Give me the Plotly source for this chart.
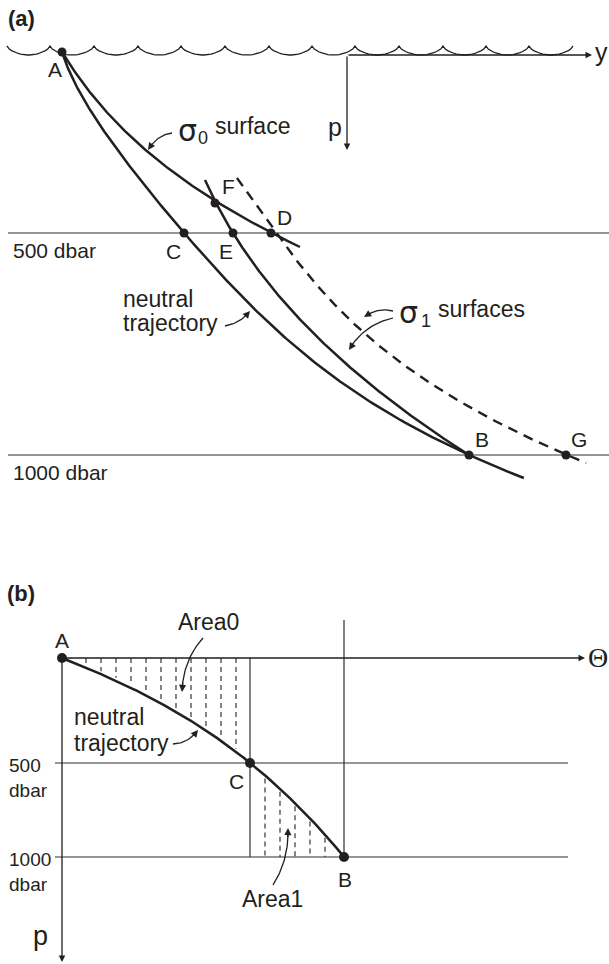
import numpy as np
import plotly.graph_objects as go

W, H = 609, 964
INK = "#231f20"
GREY = "#2e2e2e"
SANS = "Liberation Sans"
SERIF = "Liberation Serif"

# ---------------- panel (a): page-pixel positions (x right, y down) -------------
wave_cusps_x = [7, 50, 94, 138, 181, 225, 269, 312, 355, 399, 443, 486, 529, 573]
wave_cusp_y = 46
wave_trough_y = 55

# curves are read as (y, x) pairs; marked points and end points get a heavy weight
neutral_a_y = [52, 100, 130, 148, 200, 233, 260, 363, 383, 455, 478]
neutral_a_x = [62, 82, 106, 119, 158, 184, 207, 320, 348, 469, 524]
sigma0_y = [52, 100, 130, 150, 202, 233, 247]
sigma0_x = [62, 94, 122, 151, 215, 270, 300]
sigma1_solid_y = [180, 202, 233, 260, 340, 367, 455]
sigma1_solid_x = [205, 215, 233, 250, 320, 350, 469]
sigma1_dash_y = [178, 233, 260, 323, 390, 455, 463]
sigma1_dash_x = [237, 270, 293, 360, 450, 566, 587]

pts_a_name = ["A", "C", "E", "D", "F", "B", "G"]
pts_a_x = [62, 184, 233, 271, 215, 469, 566]
pts_a_y = [52, 233, 233, 233, 203, 455, 455]
lbl_a_x = [55, 173, 226, 284, 228, 482, 579]
lbl_a_y = [69, 251, 251, 217, 186, 439, 439]

levels_a_y = [233, 455]
levels_a_text = ["500 dbar", "1000 dbar"]
levels_a_text_y = [250, 472]

# ---------------- panel (b) -----------------------------------------------------
theta_axis_y = 658
p_axis_x = 62
neutral_b_x = [62, 100, 150, 200, 250, 285, 315, 344]
neutral_b_y = [658, 672, 695, 727, 763, 789, 815, 857]
pts_b_name = ["A", "C", "B"]
pts_b_x = [62, 250, 344]
pts_b_y = [658, 763, 857]
lbl_b_x = [62, 236, 345]
lbl_b_y = [640, 781, 879]
levels_b_y = [763, 857]
levels_b_num = ["500", "1000"]
area0_x = [71, 86, 101, 116, 131, 146, 161, 176, 191, 206, 221, 236]
area1_x = [265, 280, 295, 310, 325]


def fit(indep, dep, anchors, deg=3):
    n = len(indep)
    w = np.array([8.0 if ((i, d) in anchors or k in (0, n - 1)) else 1.0
                  for k, (i, d) in enumerate(zip(indep, dep))])
    return np.polyfit(indep, dep, deg, w=w)


def bezier(p0, c, p1, n=30):
    t = np.linspace(0, 1, n)[:, None]
    P = (1 - t) ** 2 * np.array(p0) + 2 * (1 - t) * t * np.array(c) + t ** 2 * np.array(p1)
    return P[:, 0], P[:, 1]


fig = go.Figure()
ann = []


def line(x, y, width=2.5, color=INK, dash=None):
    fig.add_trace(go.Scatter(x=list(x), y=list(y), mode="lines", hoverinfo="skip",
                             line=dict(color=color, width=width, dash=dash)))


def text(x, y, s, size=21, xanchor="center", family=SANS, color=INK):
    ann.append(dict(x=x, y=y, text=s, showarrow=False, xanchor=xanchor, yanchor="middle",
                    font=dict(family=family, size=size, color=color)))


def arrow(x0, y0, x1, y1, width=1.5, head=2, size=1.0):
    ann.append(dict(x=x1, y=y1, ax=x0, ay=y0, axref="x", ayref="y", xref="x", yref="y",
                    text="", showarrow=True, arrowhead=head, arrowsize=size,
                    arrowwidth=width, arrowcolor=INK, standoff=0, startstandoff=0))


def curved_arrow(p0, c, p1):
    bx, by = bezier(p0, c, p1)
    line(bx[:-3], by[:-3], width=1.3)
    arrow(bx[-6], by[-6], bx[-1], by[-1], width=1.3, head=2, size=1.1)


def curve_x_of_y(ys, xs, marks, deg=3, **kw):
    anchors = {(my, mx) for mx, my in marks}
    c = fit(ys, xs, anchors, deg)
    yy = np.linspace(ys[0], ys[-1], 200)
    line(np.polyval(c, yy), yy, **kw)


# sea surface: scallops between cusps
wx, wy = [], []
for a, b in zip(wave_cusps_x[:-1], wave_cusps_x[1:]):
    s = np.linspace(0, 1, 20)
    wx += list(a + (b - a) * s)
    wy += list(wave_cusp_y + (wave_trough_y - wave_cusp_y) * np.sin(np.pi * s) ** 0.6)
line(wx, wy, width=1.3)

# y / p axes of panel (a)
arrow(347, 55, 592, 55, width=1.3)
arrow(347, 55, 347, 150, width=1.3)
text(601, 52, "y", size=25)
text(335, 127, "p", size=25)

# pressure levels of panel (a)
for ly, lt, ty in zip(levels_a_y, levels_a_text, levels_a_text_y):
    line([8, W], [ly, ly], width=1.2, color=GREY)
    text(11, ty, lt, xanchor="left")

marks_a = list(zip(pts_a_x, pts_a_y))
curve_x_of_y(sigma1_dash_y, sigma1_dash_x, marks_a, width=2.4, dash="10px,7px")
curve_x_of_y(neutral_a_y, neutral_a_x, marks_a, deg=4, width=2.5)
curve_x_of_y(sigma0_y, sigma0_x, marks_a, width=2.5)
curve_x_of_y(sigma1_solid_y, sigma1_solid_x, marks_a, width=2.5)

fig.add_trace(go.Scatter(x=pts_a_x, y=pts_a_y, mode="markers", hoverinfo="skip",
                         marker=dict(size=9, color=INK)))
for n, lx, ly in zip(pts_a_name, lbl_a_x, lbl_a_y):
    text(lx, ly, n)

text(21, 18, "<b>(a)</b>", size=22)

# sigma labels
text(187, 130, "σ", size=30, family="DejaVu Sans")
text(203, 138, "0", size=18)
text(213, 126, "surface", size=23, xanchor="left")
curved_arrow((172, 133), (157, 135), (148, 150))

text(408, 312, "σ", size=30, family="DejaVu Sans")
text(426, 321, "1", size=18)
text(436, 309, "surfaces", size=23, xanchor="left")
curved_arrow((393, 311), (378, 307), (364, 317))
curved_arrow((393, 318), (363, 325), (349, 350))

text(121, 299, "neutral", size=23, xanchor="left")
text(121, 323, "trajectory", size=23, xanchor="left")
curved_arrow((225, 326), (241, 323), (250, 311))

# ---------------- panel (b) drawing --------------------------------------------
text(21, 593, "<b>(b)</b>", size=22)
for ly, num in zip(levels_b_y, levels_b_num):
    line([55, 568], [ly, ly], width=1.2, color=GREY)
    text(7, ly + 2, num, size=19, xanchor="left")
    text(7, ly + 27, "dbar", size=19, xanchor="left")

arrow(p_axis_x, theta_axis_y, 585, theta_axis_y, width=1.3)
arrow(p_axis_x, theta_axis_y, p_axis_x, 962, width=1.3)
text(598, 657, "Θ", size=28, family=SERIF)
text(40, 936, "p", size=27)

# vertical guides through C and B
line([pts_b_x[1]] * 2, [theta_axis_y, levels_b_y[1]], width=1.2, color=GREY)
line([pts_b_x[2]] * 2, [620, levels_b_y[1]], width=1.2, color=GREY)

anchors_b = set(zip(pts_b_x, pts_b_y))
cb = fit(neutral_b_x, neutral_b_y, anchors_b)
for xv in area0_x:
    line([xv, xv], [theta_axis_y, np.polyval(cb, xv) - 3], width=1.1, dash="5px,4px")
for xv in area1_x:
    line([xv, xv], [np.polyval(cb, xv) + 3, levels_b_y[1]], width=1.1, dash="5px,4px")

xx = np.linspace(neutral_b_x[0], neutral_b_x[-1], 200)
line(xx, np.polyval(cb, xx), width=2.5)
fig.add_trace(go.Scatter(x=pts_b_x, y=pts_b_y, mode="markers", hoverinfo="skip",
                         marker=dict(size=10, color=INK)))
for n, lx, ly in zip(pts_b_name, lbl_b_x, lbl_b_y):
    text(lx, ly, n)

text(208, 622, "Area0", size=23)
curved_arrow((203, 638), (183, 660), (182, 692))
text(72, 717, "neutral", size=23, xanchor="left")
text(72, 743, "trajectory", size=23, xanchor="left")
curved_arrow((173, 744), (189, 743), (198, 730))
text(272, 899, "Area1", size=23)
curved_arrow((273, 885), (289, 860), (288, 828))

fig.update_layout(
    width=W, height=H, margin=dict(l=0, r=0, t=0, b=0),
    paper_bgcolor="white", plot_bgcolor="white", showlegend=False,
    annotations=ann,
    xaxis=dict(range=[0, W], visible=False, fixedrange=True),
    yaxis=dict(range=[H, 0], visible=False, fixedrange=True),
)
fig.write_html("out.html")
